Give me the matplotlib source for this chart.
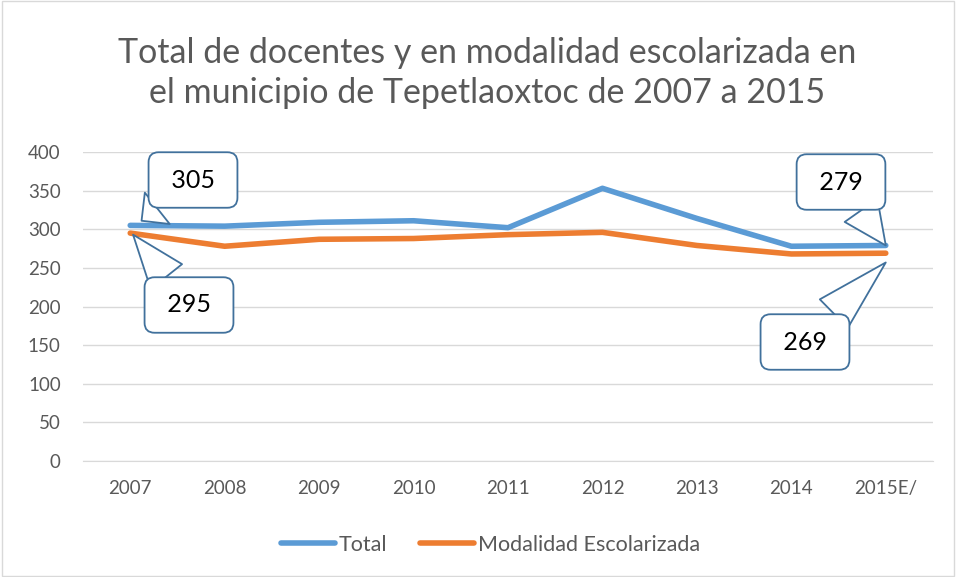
import matplotlib.pyplot as plt
from matplotlib.patches import Rectangle

years = ['2007', '2008', '2009', '2010', '2011', '2012', '2013', '2014', '2015E/']
total = [305, 304, 309, 311, 302, 353, 314, 278, 279]
escolarizada = [295, 278, 287, 288, 293, 296, 279, 268, 269]

plt.rcParams['font.family'] = ['Lato', 'DejaVu Sans']

fig = plt.figure(figsize=(9.56, 5.77), dpi=100)
fig.patches.append(Rectangle((0.002, 0.002), 0.996, 0.996, transform=fig.transFigure,
                             fill=False, ec='#d9d9d9', lw=1))
ax = fig.add_axes([83 / 956, 1 - 461 / 577, 850 / 956, 309 / 577])

x = list(range(len(years)))
ax.plot(x, total, color='#5b9bd5', lw=4, solid_capstyle='round', label='Total')
ax.plot(x, escolarizada, color='#ed7d31', lw=4, solid_capstyle='round',
        label='Modalidad Escolarizada')

ax.set_xlim(-0.5, len(years) - 0.5)
ax.set_ylim(0, 400)
ax.set_yticks(range(0, 401, 50))
ax.set_xticks(x)
ax.set_xticklabels(years)
ax.tick_params(length=0, labelsize=13.5, colors='#595959')
ax.tick_params(axis='x', pad=14)
ax.tick_params(axis='y', pad=16)
ax.grid(axis='y', color='#d9d9d9', lw=1)
ax.set_axisbelow(True)
for s in ['top', 'right', 'left']:
    ax.spines[s].set_visible(False)
ax.spines['bottom'].set_color('#d9d9d9')

fig.text(0.51, 1 - 73 / 577, 'Total de docentes y en modalidad escolarizada en\nel municipio de Tepetlaoxtoc de 2007 a 2015',
         ha='center', va='center', fontsize=24.5, color='#595959', linespacing=1.3)

# callouts: (index, value, box centre in pixels from top-left, tip offset)
box = dict(boxstyle='round,pad=0.65,rounding_size=0.4', fc='white', ec='#41719c', lw=1.3)
callouts = [
    (0, total[0], (193, 180), (0.12, 6)),
    (0, escolarizada[0], (189, 305), (0.03, -2)),
    (8, total[-1], (841, 182), (0.0, 0)),
    (8, escolarizada[-1], (805, 342), (0.0, -12)),
]
for xi, v, pos, off in callouts:
    ax.annotate(' %d ' % v, xy=(xi + off[0], v + off[1]), xytext=(pos[0], 577 - pos[1]),
                textcoords='figure pixels', ha='center', va='center', fontsize=18,
                color='black', bbox=box,
                arrowprops=dict(arrowstyle='wedge,tail_width=1.6,shrink_factor=0.5',
                                fc='white', ec='#41719c', lw=1.3, shrinkA=0, shrinkB=0))

fig.legend(loc='center', bbox_to_anchor=(0.513, 1 - 545 / 577), ncol=2, frameon=False,
           fontsize=15.5, handlelength=2.5, handletextpad=0.2, columnspacing=1.5,
           labelcolor='#595959')

fig.savefig('out.png', dpi=100)
